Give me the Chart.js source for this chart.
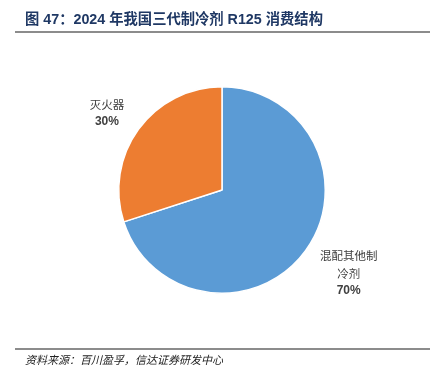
<!DOCTYPE html>
<html>
<head>
<meta charset="utf-8">
<script src="https://cdn.jsdelivr.net/npm/chart.js@4"></script>
<style>
  body { margin: 0; background: #fff; }
  #wrap { position: relative; width: 438px; height: 379px; overflow: hidden; }
  #container { position: absolute; left: 0; top: 0; }
  .title {
    position: absolute; left: 25px; top: 7px;
    font: bold 14.3px "Liberation Sans", "Noto Sans CJK SC", sans-serif;
    color: #1f3864; white-space: nowrap;
  }
  .rule { position: absolute; left: 15px; width: 415px; height: 2px; background: #8c8c8c; }
  .source {
    position: absolute; left: 25px; top: 351px;
    font: italic 11px "Noto Sans CJK SC", sans-serif;
    color: #222; white-space: nowrap;
  }
</style>
</head>
<body>
<div id="wrap">
  <canvas id="container" width="438" height="379"></canvas>
  <div class="title">图 47：2024 年我国三代制冷剂 R125 消费结构</div>
  <div class="rule" style="top:31px"></div>
  <div class="rule" style="top:348px"></div>
  <div class="source">资料来源：百川盈孚，信达证券研发中心</div>
</div>
<script>
const categories = ['混配其他制冷剂', '灭火器'];
const labelLines = [['混配其他制', '冷剂'], ['灭火器']];
const shares = [70, 30];
const colors = ['#5b9bd5', '#ed7d31'];

// outside labels, placed around each slice's mid angle
const outsideLabels = {
  id: 'outsideLabels',
  afterDatasetsDraw(chart) {
    const ctx = chart.ctx;
    const meta = chart.getDatasetMeta(0);
    const tweaks = [{ r: 1.47, da: -0.045 }, { r: 1.34, da: -0.04 }];
    meta.data.forEach((arc, i) => {
      const mid = (arc.startAngle + arc.endAngle) / 2 + tweaks[i].da;
      const r = arc.outerRadius * tweaks[i].r;
      const x = arc.x + Math.cos(mid) * r;
      const lines = labelLines[i];
      const lh = 17.5;
      let y = arc.y + Math.sin(mid) * r - lines.length * lh / 2;
      ctx.save();
      ctx.textAlign = 'center';
      ctx.textBaseline = 'middle';
      ctx.fillStyle = '#404040';
      ctx.font = '11.5px "Noto Sans CJK SC", sans-serif';
      lines.forEach(t => { ctx.fillText(t, x, y); y += lh; });
      ctx.font = 'bold 12px "Liberation Sans", sans-serif';
      ctx.fillText(shares[i] + '%', x, y);
      ctx.restore();
    });
  }
};

new Chart(document.getElementById('container'), {
  type: 'pie',
  data: {
    labels: categories,
    datasets: [{
      data: shares,
      backgroundColor: colors,
      borderColor: '#ffffff',
      borderWidth: 1.5
    }]
  },
  options: {
    responsive: false,
    animation: false,
    layout: { padding: { left: 118, right: 112, top: 86, bottom: 85 } },
    plugins: {
      legend: { display: false },
      tooltip: { enabled: false }
    }
  },
  plugins: [outsideLabels]
});
</script>
</body>
</html>
